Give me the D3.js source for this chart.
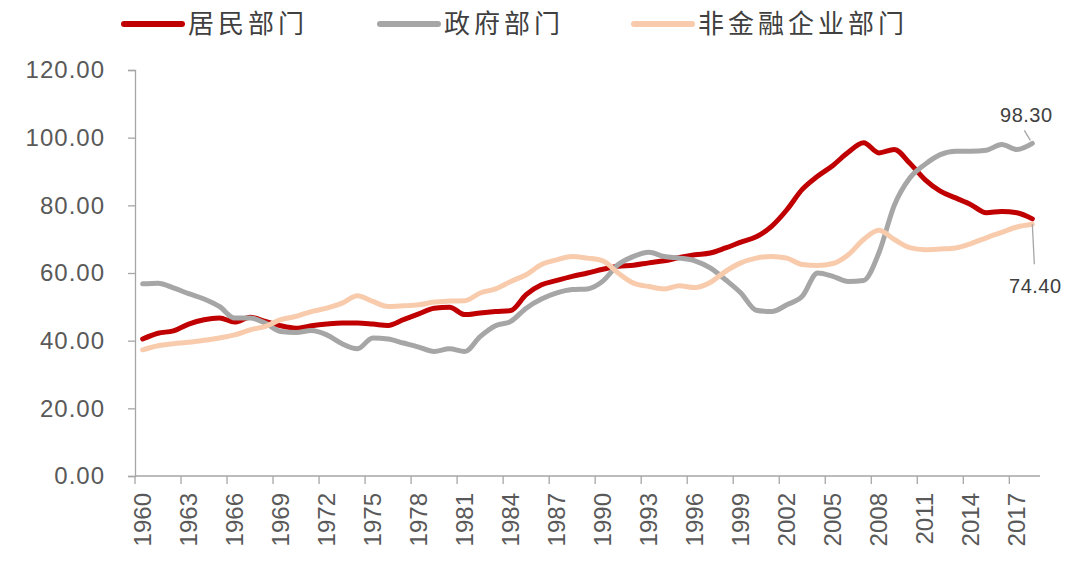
<!DOCTYPE html>
<html>
<head>
<meta charset="utf-8">
<script src="https://cdn.jsdelivr.net/npm/d3@7"></script>
<style>
  body { margin: 0; background: #fff; }
</style>
</head>
<body>
<div id="chart-container"></div>
<script>
const years = d3.range(1960, 2019)
const household = [40.5, 42.2, 42.9, 44.9, 46.2, 46.7, 45.5, 46.9, 45.7, 44.4,
  43.7, 44.4, 44.9, 45.2, 45.2, 44.9, 44.5, 46.2, 47.9, 49.6,
  49.9, 47.7, 48.2, 48.6, 48.9, 53.6, 56.5, 57.8, 59.0, 60.0,
  61.1, 62.0, 62.3, 63.0, 63.6, 64.6, 65.4, 65.9, 67.4, 69.1,
  70.7, 73.8, 78.7, 84.7, 88.6, 91.8, 95.7, 98.5, 95.5, 96.5,
  92.5, 87.6, 84.2, 82.2, 80.2, 77.8, 78.2, 77.8, 76.0]
const government = [56.8, 57.0, 55.6, 53.9, 52.3, 50.1, 46.7, 46.7, 45.2, 42.7,
  42.4, 43.0, 41.7, 39.1, 37.6, 40.8, 40.5, 39.3, 38.1, 36.8,
  37.6, 36.8, 41.2, 44.4, 45.7, 49.6, 52.3, 54.1, 55.1, 55.3,
  57.6, 62.5, 64.9, 66.1, 64.9, 64.4, 63.6, 61.5, 58.0, 54.1,
  49.0, 48.6, 50.6, 53.1, 60.0, 59.0, 57.5, 57.8, 66.0, 80.0,
  88.0, 92.1, 95.0, 96.0, 96.0, 96.3, 98.0, 96.5, 98.3]
const nonfinancial = [37.3, 38.5, 39.1, 39.5, 40.1, 40.8, 41.7, 43.2, 44.2, 46.2,
  47.2, 48.6, 49.6, 51.1, 53.3, 51.6, 50.1, 50.3, 50.6, 51.4,
  51.7, 51.8, 54.1, 55.3, 57.5, 59.5, 62.5, 63.9, 64.9, 64.4,
  63.6, 60.0, 57.0, 56.0, 55.3, 56.2, 55.7, 57.2, 60.5, 63.0,
  64.4, 64.9, 64.4, 62.5, 62.2, 62.8, 65.4, 69.9, 72.6, 69.9,
  67.5, 66.9, 67.1, 67.4, 68.7, 70.4, 72.0, 73.6, 74.4]
const seriesNames = ['居民部门', '政府部门', '非金融企业部门']
const seriesColors = ['#C00000', '#A6A6A6', '#F8CBAD']
const yTicks = [0, 20, 40, 60, 80, 100, 120]
const labelled = [{ series: 1, text: '98.30' }, { series: 2, text: '74.40' }]

const width = 1080
const height = 570
const marginTop = 70
const marginRight = 40
const marginBottom = 94
const marginLeft = 135

const svg = d3.select('#chart-container')
  .append('svg')
  .attr('width', width)
  .attr('height', height)
  .style('font-family', '"Liberation Sans", Arial, sans-serif')

const xScale = d3.scaleBand()
  .domain(years)
  .range([marginLeft, width - marginRight])
  .padding(0)
const xMid = d => xScale(d) + xScale.bandwidth() / 2

const yScale = d3.scaleLinear()
  .domain([0, 120])
  .range([height - marginBottom, marginTop])

// y axis
const yAxis = d3.axisLeft(yScale)
  .tickValues(yTicks)
  .tickSize(7)
  .tickPadding(23)
  .tickFormat(d3.format('.2f'))
const gy = svg.append('g')
  .attr('transform', 'translate(' + marginLeft + ',0)')
  .call(yAxis)
gy.select('.domain').attr('stroke', '#A6A6A6').attr('stroke-width', 1.3)
gy.selectAll('.tick line').attr('stroke', '#A6A6A6').attr('stroke-width', 1.3)
gy.selectAll('.tick text')
  .attr('fill', '#595959')
  .style('font-size', '24px')
  .style('letter-spacing', '1px')

// x axis: ticks at category boundaries every 3 years, labels at category centre
const xTickYears = years.filter(d => (d - 1960) % 3 === 0)
const gx = svg.append('g')
  .attr('transform', 'translate(0,' + (height - marginBottom) + ')')
gx.append('line')
  .attr('x1', marginLeft).attr('x2', width - marginRight)
  .attr('stroke', '#A6A6A6').attr('stroke-width', 1.3)
gx.selectAll('.xtick')
  .data(xTickYears)
  .enter()
  .append('line')
  .attr('x1', d => xScale(d)).attr('x2', d => xScale(d))
  .attr('y1', 0).attr('y2', 8)
  .attr('stroke', '#A6A6A6').attr('stroke-width', 1.3)
gx.selectAll('.xlabel')
  .data(xTickYears)
  .enter()
  .append('text')
  .attr('transform', d => 'translate(' + xMid(d) + ',17) rotate(-90)')
  .attr('dy', '0.35em')
  .attr('text-anchor', 'end')
  .attr('fill', '#595959')
  .style('font-size', '24px')
  .text(d => d)

// lines
const line = d3.line()
  .x((d, i) => xMid(years[i]))
  .y(d => yScale(d))
  .curve(d3.curveMonotoneX)
const allSeries = [household, government, nonfinancial]
svg.selectAll('.series')
  .data(allSeries)
  .enter()
  .append('path')
  .attr('d', d => line(d))
  .attr('fill', 'none')
  .attr('stroke', (d, i) => seriesColors[i])
  .attr('stroke-width', 5)
  .attr('stroke-linejoin', 'round')
  .attr('stroke-linecap', 'round')

// end labels
const lastYear = years[years.length - 1]
const endX = xMid(lastYear)
const govEnd = allSeries[labelled[0].series][years.length - 1]
const nfEnd = allSeries[labelled[1].series][years.length - 1]
svg.append('polyline')
  .attr('points', [[endX - 8, yScale(govEnd) - 13], [endX - 2, yScale(govEnd) - 3]].join(' '))
  .attr('fill', 'none').attr('stroke', '#A6A6A6').attr('stroke-width', 1.3)
svg.append('text')
  .attr('x', endX - 6).attr('y', yScale(govEnd) - 21)
  .attr('text-anchor', 'middle')
  .attr('fill', '#404040')
  .style('font-size', '20px')
  .style('letter-spacing', '0.5px')
  .text(labelled[0].text)
svg.append('line')
  .attr('x1', endX).attr('x2', endX + 2)
  .attr('y1', yScale(nfEnd)).attr('y2', yScale(nfEnd) + 40)
  .attr('stroke', '#A6A6A6').attr('stroke-width', 1.3)
svg.append('text')
  .attr('x', endX + 3).attr('y', yScale(nfEnd) + 69)
  .attr('text-anchor', 'middle')
  .attr('fill', '#404040')
  .style('font-size', '20px')
  .style('letter-spacing', '0.5px')
  .text(labelled[1].text)

// legend
const legendX = [122, 378, 632]
const legend = svg.selectAll('.legend')
  .data(seriesNames)
  .enter()
  .append('g')
  .attr('transform', (d, i) => 'translate(' + legendX[i] + ',24)')
legend.append('line')
  .attr('x1', 2).attr('x2', 60)
  .attr('stroke', (d, i) => seriesColors[i])
  .attr('stroke-width', 6)
  .attr('stroke-linecap', 'round')
legend.append('text')
  .attr('x', 66)
  .attr('dy', '0.36em')
  .attr('fill', '#404040')
  .style('font-family', '"Noto Sans CJK SC", sans-serif')
  .style('font-size', '26px')
  .style('letter-spacing', '4px')
  .text(d => d)
</script>
</body>
</html>
